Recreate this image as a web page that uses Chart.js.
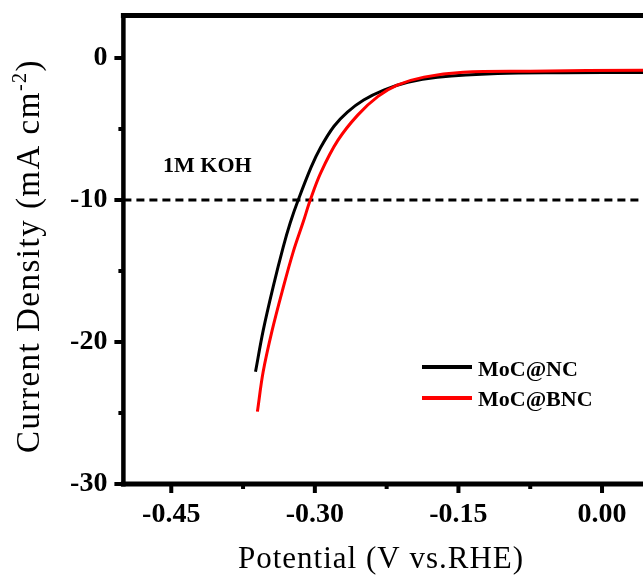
<!DOCTYPE html>
<html>
<head>
<meta charset="utf-8">
<title>MoC LSV</title>
<script src="https://cdn.jsdelivr.net/npm/chart.js@4.4.1/dist/chart.umd.min.js"></script>
<style>
  html, body { margin: 0; padding: 0; background: #fff; }
  #wrap { width: 643px; height: 576px; }
</style>
</head>
<body>
<div id="wrap"><canvas id="lsv" width="643" height="576"></canvas></div>
<script>
// ── Data ────────────────────────────────────────────────────────────────
const ncPotential  = [-0.362, -0.354, -0.3435, -0.333, -0.3257, -0.3174, -0.304, -0.294, -0.280,
                      -0.266, -0.249, -0.228, -0.203, -0.172, -0.109, -0.041, 0.043];
const ncCurrent    = [-22.1, -19.2, -16.1, -13.3, -11.6, -10.0, -7.7, -6.3, -4.8,
                      -3.8, -2.95, -2.25, -1.7, -1.35, -1.08, -1.03, -1.02];
const bncPotential = [-0.360, -0.354, -0.3445, -0.334, -0.3226, -0.3122, -0.3048, -0.294, -0.276,
                      -0.255, -0.234, -0.214, -0.186, -0.145, -0.075, 0.043];
const bncCurrent   = [-24.9, -22.1, -19.15, -16.4, -13.65, -11.55, -10.0, -8.1, -5.8,
                      -4.0, -2.7, -1.9, -1.34, -1.0, -0.92, -0.85];

const xTicks = [-0.45, -0.30, -0.15, 0.00];
const xMinor = [-0.375, -0.225, -0.075];
const yTicks = [-30, -20, -10, 0];
const yMinor = [-5, -15, -25];

const refCurrent   = -10;
const refLabel     = '1M KOH';
const seriesLabels = ['MoC@NC', 'MoC@BNC'];
const seriesColors = ['#000000', '#ff0000'];

const SERIF = "'Liberation Serif', 'Times New Roman', serif";

// ── Frame, ticks, reference line, legend, axis titles ───────────────────
const decor = {
  id: 'decor',
  beforeDatasetsDraw(chart) {
    const { ctx, chartArea: a, scales: { y } } = chart;
    const yp = y.getPixelForValue(refCurrent);
    ctx.save();
    ctx.strokeStyle = '#000';
    ctx.lineWidth = 3;
    ctx.setLineDash([8, 5]);
    ctx.beginPath();
    ctx.moveTo(a.left, yp);
    ctx.lineTo(a.right, yp);
    ctx.stroke();
    ctx.restore();
  },
  afterDraw(chart) {
    const { ctx, chartArea: a, scales: { x, y } } = chart;
    ctx.save();
    ctx.strokeStyle = '#000';
    ctx.lineCap = 'butt';

    // axis lines (top frame, left, bottom)
    ctx.lineWidth = 5;
    ctx.beginPath();
    ctx.moveTo(a.left - 2.5, a.top);    ctx.lineTo(a.right, a.top);
    ctx.moveTo(a.left - 2.5, a.bottom); ctx.lineTo(a.right, a.bottom);
    ctx.stroke();
    ctx.lineWidth = 4.5;
    ctx.beginPath();
    ctx.moveTo(a.left, a.top - 2.5); ctx.lineTo(a.left, a.bottom + 2.5);
    ctx.stroke();

    // ticks, drawn outward
    const tick = (vals, len, w) => {
      ctx.lineWidth = w;
      ctx.beginPath();
      vals.x.forEach(v => {
        const px = x.getPixelForValue(v);
        ctx.moveTo(px, a.bottom); ctx.lineTo(px, a.bottom + len);
      });
      vals.y.forEach(v => {
        const py = y.getPixelForValue(v);
        ctx.moveTo(a.left, py); ctx.lineTo(a.left - len, py);
      });
      ctx.stroke();
    };
    tick({ x: xTicks, y: yTicks }, 9, 4);
    tick({ x: xMinor, y: yMinor }, 5, 4);

    // electrolyte label
    ctx.fillStyle = '#000';
    ctx.font = 'bold 22px ' + SERIF;
    ctx.textBaseline = 'alphabetic';
    ctx.textAlign = 'left';
    ctx.fillText(refLabel, 163, 172);

    // legend
    seriesLabels.forEach((lab, i) => {
      const ly = 367 + i * 31;
      ctx.strokeStyle = seriesColors[i];
      ctx.lineWidth = 4;
      ctx.beginPath();
      ctx.moveTo(422, ly); ctx.lineTo(472, ly);
      ctx.stroke();
      ctx.fillStyle = '#000';
      ctx.fillText(lab, 478, 376 + i * 30);
    });

    // x title
    ctx.font = '31px ' + SERIF;
    ctx.letterSpacing = '1px';
    ctx.textAlign = 'center';
    ctx.fillText('Potential (V vs.RHE)', 381, 568);

    // y title with superscript
    ctx.translate(39, 256);
    ctx.rotate(-Math.PI / 2);
    ctx.letterSpacing = '1.5px';
    ctx.textAlign = 'left';
    const main = 'Current Density (mA cm', sup = '-2', tail = ')';
    ctx.font = '33px ' + SERIF;
    const wMain = ctx.measureText(main).width;
    const wTail = ctx.measureText(tail).width;
    ctx.font = '20px ' + SERIF;
    const wSup = ctx.measureText(sup).width;
    let cx = -(wMain + wSup + wTail) / 2;
    ctx.font = '33px ' + SERIF;
    ctx.fillText(main, cx, 0);
    cx += wMain;
    ctx.font = '20px ' + SERIF;
    ctx.fillText(sup, cx, -13);
    cx += wSup;
    ctx.font = '33px ' + SERIF;
    ctx.fillText(tail, cx, 0);
    ctx.restore();
  }
};

const pts = (xs, ys) => xs.map((v, i) => ({ x: v, y: ys[i] }));
const tickFont = { family: SERIF, size: 28, weight: 'bold' };

new Chart(document.getElementById('lsv'), {
  type: 'line',
  data: {
    datasets: [
      { label: seriesLabels[0], data: pts(ncPotential, ncCurrent),
        borderColor: seriesColors[0], borderWidth: 3, order: 1 },
      { label: seriesLabels[1], data: pts(bncPotential, bncCurrent),
        borderColor: seriesColors[1], borderWidth: 3, order: 0 },
    ],
  },
  options: {
    responsive: false,
    animation: false,
    devicePixelRatio: 1,
    layout: { padding: { top: 15.5, right: 0, bottom: 0, left: 0 } },
    elements: { point: { radius: 0 }, line: { tension: 0.35, fill: false } },
    plugins: { legend: { display: false }, tooltip: { enabled: false } },
    scales: {
      x: {
        type: 'linear', min: -0.5, max: 0.0428,
        grid: { display: false, drawTicks: false },
        border: { display: false },
        ticks: { font: tickFont, color: '#000', padding: 14, callback: v => v.toFixed(2) },
        afterBuildTicks: s => { s.ticks = xTicks.map(v => ({ value: v })); },
        afterFit: s => { s.height = 92; s.paddingLeft = 0; s.paddingRight = 0; },
      },
      y: {
        min: -30, max: 3,
        grid: { display: false, drawTicks: false },
        border: { display: false },
        ticks: { font: tickFont, color: '#000', padding: 16, callback: v => String(v) },
        afterBuildTicks: s => { s.ticks = yTicks.map(v => ({ value: v })); },
        afterFit: s => { s.width = 123.4; s.paddingTop = 0; s.paddingBottom = 0; },
      },
    },
  },
  plugins: [decor],
});
</script>
</body>
</html>
